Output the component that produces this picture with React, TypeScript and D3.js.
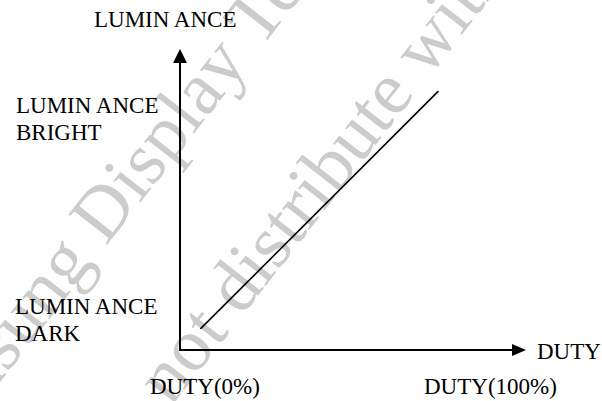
import React from 'react';
import * as d3 from 'd3';

// duty (%) vs luminance (relative %), straight-line relation
const dutyValues = [6, 76];
const luminanceValues = [7, 86];

const axisLabels = ['LUMIN ANCE', 'DUTY'];
const brightLabel = ['LUMIN ANCE', 'BRIGHT'];
const darkLabel = ['LUMIN ANCE', 'DARK'];
const dutyTicks = ['DUTY(0%)', 'DUTY(100%)'];

const watermarkLines = ['Samsung Display Technology', 'Do not distribute without permission'];

const WIDTH = 602;
const HEIGHT = 401;

export default function App() {
  const x = d3.scaleLinear().domain([0, 100]).range([180, 520]);
  const y = d3.scaleLinear().domain([0, 100]).range([350, 49]);

  const pts = dutyValues.map((d, i) => [d, luminanceValues[i]] as [number, number]);
  const lineD = d3.line<[number, number]>().x((d) => x(d[0])).y((d) => y(d[1]))(pts) ?? '';

  const wmPos = [
    [-75, 478],
    [103, 494],
  ];
  const xEnd = x(100) + 6;
  const labels: [string, number, number][] = [
    [axisLabels[0], 94, 26.5],
    [axisLabels[1], 537, 359],
    [brightLabel[0], 16, 113],
    [brightLabel[1], 16, 140],
    [darkLabel[0], 15, 314],
    [darkLabel[1], 15, 341],
    [dutyTicks[0], 150, 394],
    [dutyTicks[1], 424, 394],
  ];

  return (
    <svg width={WIDTH} height={HEIGHT} style={{ position: 'absolute', left: 0, top: 0 }}>
      <style>{`
        text { font-family: "Liberation Serif", "Times New Roman", Tinos, serif; }
        .lbl { font-size: 23px; }
        .wm { font-size: 75px; }
      `}</style>
      <rect width={WIDTH} height={HEIGHT} fill="#fff" />
      {/* watermark */}
      {watermarkLines.map((s, i) => (
        <text
          key={s}
          className="wm"
          transform={`translate(${wmPos[i][0]},${wmPos[i][1]}) rotate(-52)`}
          fill="#cccccc"
        >
          {s}
        </text>
      ))}
      {/* axes */}
      <g stroke="#000" strokeWidth={2}>
        <line x1={x(0)} x2={x(0)} y1={y(0) + 1} y2={y(100) + 10} />
        <line x1={x(0) - 1} x2={xEnd - 10} y1={y(0)} y2={y(0)} />
      </g>
      <path d={`M${x(0)},${y(100)} L${x(0) - 7},${y(100) + 14} L${x(0) + 7},${y(100) + 14} Z`} fill="#000" />
      <path d={`M${xEnd},${y(0)} L${xEnd - 14},${y(0) - 6} L${xEnd - 14},${y(0) + 6} Z`} fill="#000" />
      {/* duty -> luminance */}
      <path d={lineD} fill="none" stroke="#000" strokeWidth={1.6} />
      {labels.map(([s, tx, ty], i) => (
        <text key={i} className="lbl" x={tx} y={ty} fill="#000">
          {s}
        </text>
      ))}
    </svg>
  );
}
